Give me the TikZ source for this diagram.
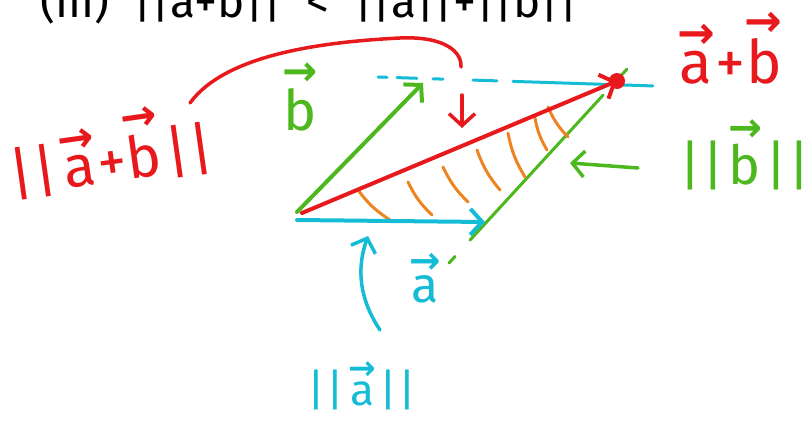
\documentclass[tikz,border=0pt]{standalone}
\usepackage{fontspec}
\usepackage{graphicx}
\setmainfont{Fira Sans}
\newfontfamily\arrowfont{DejaVu Sans}
\usetikzlibrary{arrows.meta}
\definecolor{penred}{HTML}{E8191C}
\definecolor{pengreen}{HTML}{4DB81E}
\definecolor{pencyan}{HTML}{14BCD6}
\definecolor{penorange}{HTML}{EE8421}
\newcommand\vc[1]{\leavevmode\vbox{\offinterlineskip\halign{\hfil##\hfil\cr\scalebox{0.75}{\arrowfont\bfseries →}\cr\noalign{\kern0.04em}#1\cr}}}
\newcommand\nrm[1]{|\kern1pt|\kern4pt#1\kern4pt|\kern1pt|}
\begin{document}
\begin{tikzpicture}[x=1pt, y=-1pt,
  pen/.style={line width=4pt, line cap=round, line join=round},
  tip/.style={-{Straight Barb[length=12pt, width=26pt]}},
  hatch/.style={line width=3pt, line cap=round, penorange},
  handtext/.style={inner sep=0pt, font=\fontsize{50}{54}\selectfont}]
  \useasboundingbox (0,0) rectangle (805,423);
  \clip (0,0) rectangle (805,423);
  % heading, cut off at the top
  \node[anchor=base west, inner sep=0pt, font=\fontsize{46}{50}\selectfont] (title) at (40,17) {(iii)\ \ ||a+b|| \ < \ ||a||+||b||};
  % end points
  \coordinate (Oa) at (297,220);
  \coordinate (Ob) at (297,212);
  \coordinate (Os) at (302,213);
  \coordinate (A) at (485,222);
  \coordinate (B) at (423,83);
  \coordinate (S) at (617,81);
  \coordinate (Bd) at (378,77);
  \coordinate (Bd2) at (655,86);
  \coordinate (Ad) at (449,263);
  \coordinate (Ad2) at (628,68);
  % translated copies
  \draw[pen, pencyan, line width=3pt, dash pattern=on 9pt off 10pt on 20pt off 16pt on 10pt off 30pt on 24pt off 16pt on 140pt] (Bd) -- (Bd2);
  \draw[pen, pengreen, line width=3pt, dash pattern=on 9pt off 22pt on 197pt off 14pt on 21pt] (Ad) -- (Ad2);
  % hatching
  \foreach \x/\y/\u/\v in {358/190/390/220, 408/182/432/215, 443/167/468/202, 477/150/500/190, 508/133/525/177, 535/118/547/150, 548/107/568/137}
    \draw[hatch] (\x,\y) to[bend right=10] (\u,\v);
  % vectors
  \draw[pen, pencyan, tip] (Oa) -- (A);
  \draw[pen, pengreen, tip] (Ob) -- (B);
  \draw[pen, penred, tip] (Os) -- (S);
  \fill[penred] (S) circle (8pt);
  % labels
  \node[handtext, penred, rotate=8, font=\fontsize{58}{60}\selectfont] (nab) at (110,150) {\nrm{\vc{a}+\vc{b}}};
  \node[handtext, pengreen, font=\fontsize{56}{60}\selectfont] (lb) at (300,97) {\vc{b}};
  \node[handtext, penred, font=\fontsize{60}{64}\selectfont] (lab) at (730,48) {\vc{a}+\vc{b}};
  \node[handtext, pengreen, font=\fontsize{54}{58}\selectfont] (nb) at (745,155) {\nrm{\vc{b}}};
  \node[handtext, pencyan] (la) at (425,278) {\vc{a}};
  \node[handtext, pencyan, font=\fontsize{44}{48}\selectfont] (na) at (362,386) {\nrm{\vc{a}}};
  % pointers
  \coordinate (arcend) at (461,67);
  \coordinate (pr1) at (462,95);
  \coordinate (pr2) at (462,128);
  \coordinate (pg1) at (638,168);
  \coordinate (pg2) at (570,163);
  \coordinate (pc1) at (380,330);
  \coordinate (pc2) at (368,236);
  \draw[pen, penred, line width=3.5pt] (190,103) .. controls (225,55) and (320,42) .. (400,38) .. controls (445,36) and (462,52) .. (arcend);
  \draw[pen, penred, line width=3.5pt, tip] (pr1) -- (pr2);
  \draw[pen, pengreen, line width=3.5pt, tip] (pg1) -- (pg2);
  \draw[pen, pencyan, line width=3.5pt, tip] (pc1) .. controls (360,300) and (356,270) .. (pc2);
\end{tikzpicture}
\end{document}
